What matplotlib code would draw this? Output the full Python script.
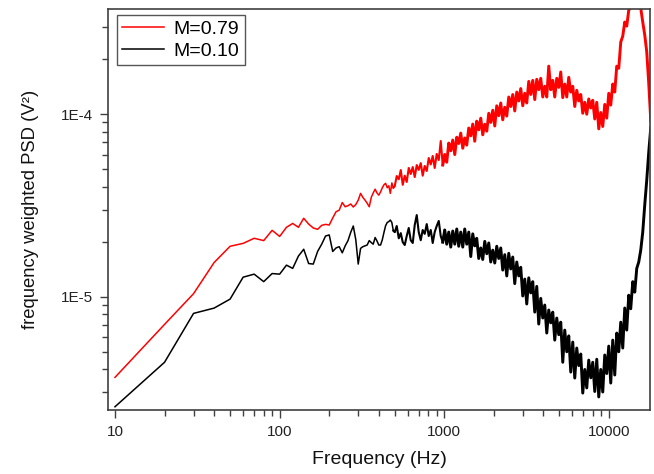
import matplotlib
matplotlib.use("Agg")
import matplotlib.pyplot as plt
import matplotlib.ticker as mticker
import numpy as np

plt.rcParams['font.family'] = ['Liberation Sans', 'DejaVu Sans']

# ---------------- data ----------------
freq_low = [10, 20, 30, 40, 50, 60, 70, 80, 90, 100,
            110, 120, 130, 140, 150, 160, 170, 180, 190, 200,
            210, 220, 230, 240, 250, 260, 270, 280, 290, 300,
            310, 320, 330, 340, 350, 360, 370, 380, 390, 400,
            410, 420, 430, 440, 450, 460, 470, 480, 490]

freq_high = [500, 514, 529, 544, 559, 575, 591, 608, 625, 643,
             661, 680, 699, 719, 739, 760, 782, 804, 827, 850,
             874, 899, 925, 951, 978, 1006, 1034, 1064, 1094, 1125,
             1157, 1190, 1223, 1258, 1294, 1330, 1368, 1407, 1447, 1488,
             1530, 1573, 1618, 1664, 1711, 1760, 1810, 1861, 1914, 1968,
             2024, 2081, 2140, 2201, 2263, 2328, 2394, 2462, 2531, 2603,
             2677, 2753, 2831, 2911, 2994, 3079, 3166, 3256, 3348, 3443,
             3541, 3641, 3744, 3850, 3960, 4072, 4188, 4306, 4429, 4554,
             4683, 4816, 4953, 5093, 5238, 5386, 5539, 5696, 5858, 6024,
             6195, 6370, 6551, 6737, 6928, 7124, 7326, 7534, 7748, 7967,
             8193, 8426, 8665, 8910, 9163, 9423, 9690, 9965, 10247, 10538,
             10837, 11144, 11460, 11785, 12119, 12463, 12816, 13180, 13553, 13938,
             14333, 14739, 15157, 15587, 16029, 16483, 16951, 17431, 17926]

# PSD values in units of 1e-5 V^2
red_low = [0.362, 0.706, 1.04, 1.54, 1.89, 1.96, 2.09, 2.03, 2.31, 2.14,
           2.40, 2.52, 2.40, 2.69, 2.50, 2.38, 2.34, 2.46, 2.49, 2.47,
           2.70, 2.92, 2.98, 3.28, 3.11, 3.15, 3.22, 3.10, 3.20, 3.38,
           3.68, 3.50, 3.38, 3.25, 3.11, 3.50, 3.70, 3.88, 3.70, 3.60,
           3.75, 3.95, 4.10, 4.18, 3.95, 4.05, 3.68, 4.20, 3.95]

red_high = [4.04, 4.58, 4.40, 4.94, 4.10, 4.60, 4.25, 5.07, 4.70, 5.13,
            4.52, 5.26, 4.95, 5.39, 4.60, 5.20, 4.88, 5.75, 5.30, 5.90,
            5.07, 6.05, 5.60, 7.12, 5.26, 6.00, 5.45, 6.94, 6.30, 7.21,
            6.00, 7.47, 6.90, 7.87, 6.50, 7.40, 6.76, 8.39, 7.60, 8.82,
            7.10, 9.15, 8.20, 9.50, 7.70, 8.80, 8.06, 10.1, 9.00, 10.5,
            8.60, 11.1, 9.80, 11.5, 9.30, 10.9, 9.75, 12.4, 11.0, 12.8,
            10.4, 13.2, 11.8, 13.8, 11.1, 13.0, 11.5, 15.1, 12.8, 15.3,
            12.0, 15.5, 13.6, 15.7, 12.4, 14.2, 12.4, 18.3, 13.6, 15.3,
            12.4, 15.7, 14.0, 17.0, 12.3, 14.6, 12.4, 15.9, 13.2, 14.2,
            11.0, 13.5, 11.8, 12.8, 10.1, 11.6, 9.98, 12.1, 10.8, 11.9,
            9.40, 11.6, 8.30, 10.2, 8.55, 11.3, 9.50, 13.0, 11.2, 14.6,
            13.2, 18.3, 17.8, 24.8, 26.7, 31.9, 30.3, 37.1, 38.3, 44.0,
            48.0, 50.0, 47.0, 38.0, 31.9, 27.1, 21.9, 14.7, 9.27]

black_low = [0.250, 0.438, 0.811, 0.867, 0.971, 1.28, 1.33, 1.21, 1.34, 1.33,
             1.49, 1.43, 1.67, 1.82, 1.52, 1.51, 1.77, 1.94, 2.15, 2.18,
             1.77, 1.85, 1.88, 1.74, 1.90, 2.03, 2.25, 2.44, 2.05, 1.51,
             1.84, 1.88, 1.90, 1.92, 2.03, 1.98, 1.94, 2.11, 2.02, 1.92,
             1.92, 2.05, 2.25, 2.45, 2.55, 2.58, 2.63, 2.55, 2.30]

black_high = [2.26, 2.44, 2.09, 2.23, 1.99, 1.92, 2.15, 2.38, 2.04, 1.97,
              2.47, 2.80, 2.26, 2.04, 2.32, 2.21, 2.50, 2.15, 2.32, 1.97,
              2.26, 2.44, 2.60, 2.15, 1.99, 2.32, 1.94, 2.26, 1.87, 2.29,
              1.94, 2.35, 1.89, 2.26, 1.87, 2.35, 1.94, 2.26, 1.66, 2.21,
              1.90, 2.09, 1.62, 1.85, 1.60, 2.01, 1.72, 1.97, 1.55, 1.80,
              1.53, 1.89, 1.62, 1.85, 1.40, 1.70, 1.30, 1.73, 1.42, 1.65,
              1.18, 1.55, 1.30, 1.45, 1.01, 1.25, 0.913, 1.27, 1.05, 1.21,
              0.824, 1.14, 0.709, 0.980, 0.765, 0.901, 0.633, 0.846, 0.720, 0.824,
              0.579, 0.765, 0.620, 0.726, 0.438, 0.657, 0.500, 0.611, 0.387, 0.565,
              0.359, 0.524, 0.420, 0.486, 0.297, 0.400, 0.317, 0.450, 0.360, 0.438,
              0.303, 0.455, 0.283, 0.400, 0.301, 0.480, 0.380, 0.537, 0.337, 0.579,
              0.373, 0.633, 0.500, 0.726, 0.524, 0.868, 0.657, 1.02, 0.860, 1.21,
              1.06, 1.43, 1.55, 1.80, 2.26, 3.18, 4.35, 6.19, 8.39]

labels = ["M=0.79", "M=0.10"]
x_tick_vals = [10, 100, 1000, 10000]
x_tick_labels = ["10", "100", "1000", "10000"]
y_tick_vals = [1e-5, 1e-4]
y_tick_labels = ["1E-5", "1E-4"]

freq = np.array(freq_low + freq_high, dtype=float)
psd_red = np.array(red_low + red_high) * 1e-5
psd_black = np.array(black_low + black_high) * 1e-5
n_low = len(freq_low)
n_mid = n_low + 25          # first dense point above 1 kHz

# ---------------- plot ----------------
fig = plt.figure(figsize=(6.54, 4.74), dpi=100)
ax = fig.add_axes([108/654, 1 - 410/474, 542/654, 401/474])

# sparse part thin, denser parts drawn progressively heavier
for psd, col, lab in ((psd_red, '#ff0000', labels[0]), (psd_black, '#000000', labels[1])):
    ax.plot(freq[:n_low + 1], psd[:n_low + 1], color=col, lw=1.1, label=lab)
    ax.plot(freq[n_low - 1:n_mid + 1], psd[n_low - 1:n_mid + 1], color=col, lw=1.5)
    ax.plot(freq[n_mid - 1:], psd[n_mid - 1:], color=col, lw=2.1)

ax.set_xscale('log')
ax.set_yscale('log')
ax.set_xlim(9.07, 17740)
ax.set_ylim(2.40e-6, 3.76e-4)

spine_c = '#404040'
for s in ax.spines.values():
    s.set_color(spine_c)
    s.set_linewidth(1.2)

ax.xaxis.set_major_locator(mticker.FixedLocator(x_tick_vals))
ax.xaxis.set_major_formatter(mticker.FixedFormatter(x_tick_labels))
ax.xaxis.set_minor_locator(mticker.LogLocator(base=10, subs=np.arange(2, 10)))
ax.xaxis.set_minor_formatter(mticker.NullFormatter())
ax.yaxis.set_major_locator(mticker.FixedLocator(y_tick_vals))
ax.yaxis.set_major_formatter(mticker.FixedFormatter(y_tick_labels))
ax.yaxis.set_minor_locator(mticker.LogLocator(base=10, subs=np.arange(2, 10)))
ax.yaxis.set_minor_formatter(mticker.NullFormatter())

ax.tick_params(which='both', direction='out', top=False, right=False,
               color=spine_c, width=1.0)
ax.tick_params(which='major', length=6, labelsize=11, labelcolor='#222222')
ax.tick_params(axis='x', which='major', pad=4.8)
ax.tick_params(axis='y', which='major', pad=5)
ax.tick_params(which='minor', length=4)

ax.set_xlabel("Frequency (Hz)", fontsize=14, color='#111111')
ax.xaxis.set_label_coords(0.5, -0.103)
ax.set_ylabel("frequency weighted PSD (V²)", fontsize=13.3, color='#111111')
ax.yaxis.set_label_coords(-0.128, 0.5)

leg = ax.legend(loc='upper left', bbox_to_anchor=(0.016, 0.985), borderaxespad=0,
                fontsize=14, frameon=True, fancybox=False, framealpha=1,
                edgecolor='#555555', handlelength=2.16, handletextpad=0.5,
                borderpad=0.28, labelspacing=0.2)
leg.get_frame().set_linewidth(1.0)
for h in leg.get_lines():
    h.set_linewidth(1.1)

fig.savefig("out.png", dpi=100)
